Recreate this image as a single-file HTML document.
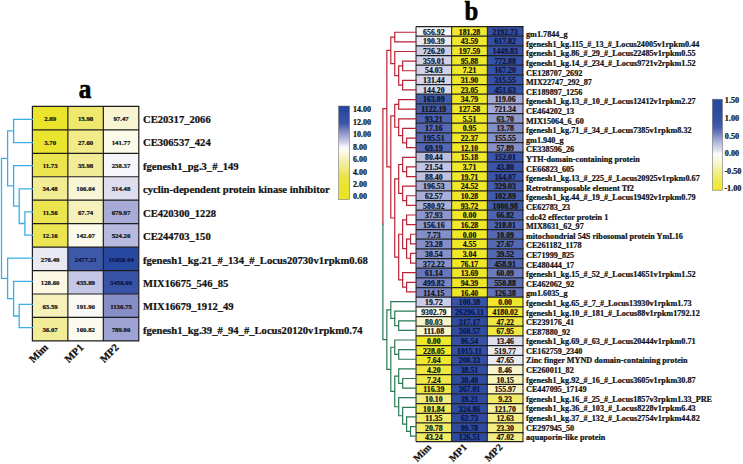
<!DOCTYPE html>
<html><head><meta charset="utf-8"><style>
html,body{margin:0;padding:0;background:#fff;}
body{width:743px;height:464px;position:relative;overflow:hidden;}
svg text{font-family:"Liberation Serif", serif;font-weight:bold;stroke:currentColor;stroke-width:0.22px;}
</style></head><body>
<svg width="743" height="464" viewBox="0 0 743 464" style="position:absolute;left:0;top:0">
<rect width="743" height="464" fill="#fff"/>
<rect x="32.40" y="106.40" width="35.47" height="23.45" fill="#eae42a"/>
<rect x="67.87" y="106.40" width="35.47" height="23.45" fill="#eee86d"/>
<rect x="103.33" y="106.40" width="35.47" height="23.45" fill="#f8f4d1"/>
<rect x="32.40" y="129.85" width="35.47" height="23.45" fill="#eae42f"/>
<rect x="67.87" y="129.85" width="35.47" height="23.45" fill="#f1eb89"/>
<rect x="103.33" y="129.85" width="35.47" height="23.45" fill="#fcfbea"/>
<rect x="32.40" y="153.30" width="35.47" height="23.45" fill="#ece44f"/>
<rect x="67.87" y="153.30" width="35.47" height="23.45" fill="#f2ec96"/>
<rect x="103.33" y="153.30" width="35.47" height="23.45" fill="#f6f6fa"/>
<rect x="32.40" y="176.75" width="35.47" height="23.45" fill="#f2ec94"/>
<rect x="67.87" y="176.75" width="35.47" height="23.45" fill="#f9f6d7"/>
<rect x="103.33" y="176.75" width="35.47" height="23.45" fill="#dedeee"/>
<rect x="32.40" y="200.20" width="35.47" height="23.45" fill="#ece44f"/>
<rect x="67.87" y="200.20" width="35.47" height="23.45" fill="#f6f1bb"/>
<rect x="103.33" y="200.20" width="35.47" height="23.45" fill="#a8abd8"/>
<rect x="32.40" y="223.65" width="35.47" height="23.45" fill="#ece451"/>
<rect x="67.87" y="223.65" width="35.47" height="23.45" fill="#fcfbea"/>
<rect x="103.33" y="223.65" width="35.47" height="23.45" fill="#b7b9df"/>
<rect x="32.40" y="247.10" width="35.47" height="23.45" fill="#e9e9f4"/>
<rect x="67.87" y="247.10" width="35.47" height="23.45" fill="#3e59a9"/>
<rect x="103.33" y="247.10" width="35.47" height="23.45" fill="#2648a0"/>
<rect x="32.40" y="270.55" width="35.47" height="23.45" fill="#fbf9e4"/>
<rect x="67.87" y="270.55" width="35.47" height="23.45" fill="#c4c6e5"/>
<rect x="103.33" y="270.55" width="35.47" height="23.45" fill="#3853a5"/>
<rect x="32.40" y="294.00" width="35.47" height="23.45" fill="#f5f1b8"/>
<rect x="67.87" y="294.00" width="35.47" height="23.45" fill="#f9f8f4"/>
<rect x="103.33" y="294.00" width="35.47" height="23.45" fill="#858ec7"/>
<rect x="32.40" y="317.45" width="35.47" height="23.45" fill="#f2ec97"/>
<rect x="67.87" y="317.45" width="35.47" height="23.45" fill="#fbfaef"/>
<rect x="103.33" y="317.45" width="35.47" height="23.45" fill="#9fa3d3"/>
<text x="50.13" y="121.08" font-size="6.8" text-anchor="middle" fill="#111" color="#111">2.89</text>
<text x="85.60" y="121.08" font-size="6.8" text-anchor="middle" fill="#111" color="#111">15.98</text>
<text x="121.07" y="121.08" font-size="6.8" text-anchor="middle" fill="#111" color="#111">97.47</text>
<text x="143" y="122.83" font-size="10.6" fill="#111" color="#111">CE20317_2066</text>
<text x="50.13" y="144.52" font-size="6.8" text-anchor="middle" fill="#111" color="#111">3.70</text>
<text x="85.60" y="144.52" font-size="6.8" text-anchor="middle" fill="#111" color="#111">27.60</text>
<text x="121.07" y="144.52" font-size="6.8" text-anchor="middle" fill="#111" color="#111">141.77</text>
<text x="143" y="146.27" font-size="10.6" fill="#111" color="#111">CE306537_424</text>
<text x="50.13" y="167.97" font-size="6.8" text-anchor="middle" fill="#111" color="#111">11.73</text>
<text x="85.60" y="167.97" font-size="6.8" text-anchor="middle" fill="#111" color="#111">35.98</text>
<text x="121.07" y="167.97" font-size="6.8" text-anchor="middle" fill="#111" color="#111">238.37</text>
<text x="143" y="169.72" font-size="10.6" fill="#111" color="#111">fgenesh1_pg.3_#_149</text>
<text x="50.13" y="191.42" font-size="6.8" text-anchor="middle" fill="#111" color="#111">34.48</text>
<text x="85.60" y="191.42" font-size="6.8" text-anchor="middle" fill="#111" color="#111">106.64</text>
<text x="121.07" y="191.42" font-size="6.8" text-anchor="middle" fill="#111" color="#111">314.48</text>
<text x="143" y="193.17" font-size="10.6" fill="#111" color="#111">cyclin-dependent protein kinase inhibitor</text>
<text x="50.13" y="214.87" font-size="6.8" text-anchor="middle" fill="#111" color="#111">11.56</text>
<text x="85.60" y="214.87" font-size="6.8" text-anchor="middle" fill="#111" color="#111">67.74</text>
<text x="121.07" y="214.87" font-size="6.8" text-anchor="middle" fill="#111" color="#111">679.97</text>
<text x="143" y="216.62" font-size="10.6" fill="#111" color="#111">CE420300_1228</text>
<text x="50.13" y="238.32" font-size="6.8" text-anchor="middle" fill="#111" color="#111">12.16</text>
<text x="85.60" y="238.32" font-size="6.8" text-anchor="middle" fill="#111" color="#111">142.07</text>
<text x="121.07" y="238.32" font-size="6.8" text-anchor="middle" fill="#111" color="#111">524.26</text>
<text x="143" y="240.07" font-size="10.6" fill="#111" color="#111">CE244703_150</text>
<text x="50.13" y="261.77" font-size="6.8" text-anchor="middle" fill="#111" color="#111">276.49</text>
<text x="85.60" y="261.77" font-size="6.8" text-anchor="middle" fill="#0c1446" color="#0c1446">2477.21</text>
<text x="121.07" y="261.77" font-size="6.8" text-anchor="middle" fill="#0c1446" color="#0c1446">11658.44</text>
<text x="143" y="263.52" font-size="10.6" fill="#111" color="#111">fgenesh1_kg.21_#_134_#_Locus20730v1rpkm0.68</text>
<text x="50.13" y="285.22" font-size="6.8" text-anchor="middle" fill="#111" color="#111">128.60</text>
<text x="85.60" y="285.22" font-size="6.8" text-anchor="middle" fill="#111" color="#111">435.89</text>
<text x="121.07" y="285.22" font-size="6.8" text-anchor="middle" fill="#0c1446" color="#0c1446">3458.60</text>
<text x="143" y="286.97" font-size="10.6" fill="#111" color="#111">MIX16675_546_85</text>
<text x="50.13" y="308.68" font-size="6.8" text-anchor="middle" fill="#111" color="#111">63.59</text>
<text x="85.60" y="308.68" font-size="6.8" text-anchor="middle" fill="#111" color="#111">191.90</text>
<text x="121.07" y="308.68" font-size="6.8" text-anchor="middle" fill="#111" color="#111">1130.75</text>
<text x="143" y="310.43" font-size="10.6" fill="#111" color="#111">MIX16679_1912_49</text>
<text x="50.13" y="332.12" font-size="6.8" text-anchor="middle" fill="#111" color="#111">36.07</text>
<text x="85.60" y="332.12" font-size="6.8" text-anchor="middle" fill="#111" color="#111">160.82</text>
<text x="121.07" y="332.12" font-size="6.8" text-anchor="middle" fill="#111" color="#111">789.90</text>
<text x="143" y="333.87" font-size="10.6" fill="#111" color="#111">fgenesh1_kg.39_#_94_#_Locus20120v1rpkm0.74</text>
<path d="M31.80 106.40H139.40M31.80 129.85H139.40M31.80 153.30H139.40M31.80 176.75H139.40M31.80 200.20H139.40M31.80 223.65H139.40M31.80 247.10H139.40M31.80 270.55H139.40M31.80 294.00H139.40M31.80 317.45H139.40M31.80 340.90H139.40M32.40 106.40V340.90M67.87 106.40V340.90M103.33 106.40V340.90M138.80 106.40V340.90" stroke="#1e1e1e" stroke-width="1.2" fill="none"/>
<path d="M13.60 119.40L32.40 119.40M13.60 142.53L32.40 142.53M13.60 119.40L13.60 142.53M7.60 130.97L13.60 130.97M13.60 165.66L32.40 165.66M19.20 188.79L32.40 188.79M24.90 211.92L32.40 211.92M24.90 235.05L32.40 235.05M24.90 211.92L24.90 235.05M19.20 223.49L24.90 223.49M19.20 188.79L19.20 223.49M13.60 206.14L19.20 206.14M13.60 165.66L13.60 206.14M7.60 185.90L13.60 185.90M7.60 130.97L7.60 185.90M1.50 158.43L7.60 158.43M7.60 258.18L32.40 258.18M13.60 281.31L32.40 281.31M19.20 304.44L32.40 304.44M19.20 327.57L32.40 327.57M19.20 304.44L19.20 327.57M13.60 316.00L19.20 316.00M13.60 281.31L13.60 316.00M7.60 298.66L13.60 298.66M7.60 258.18L7.60 298.66M1.50 278.42L7.60 278.42M1.50 158.43L1.50 278.42" stroke="#3aade2" stroke-width="1.3" fill="none" stroke-linecap="square"/>
<text transform="translate(78.8,97.5) scale(0.9,1)" font-size="28" font-weight="bold" fill="#000" color="#000" style="stroke-width:0.7px">a</text>
<text transform="translate(48.63,348.10) rotate(-45)" font-size="10.5" text-anchor="end" fill="#111" color="#111">Mim</text>
<text transform="translate(84.10,348.10) rotate(-45)" font-size="10.5" text-anchor="end" fill="#111" color="#111">MP1</text>
<text transform="translate(119.57,348.10) rotate(-45)" font-size="10.5" text-anchor="end" fill="#111" color="#111">MP2</text>
<defs><linearGradient id="ga" x1="0" y1="1" x2="0" y2="0">
<stop offset="0.0000" stop-color="#eae424"/>
<stop offset="0.1429" stop-color="#eae42a"/>
<stop offset="0.2643" stop-color="#ece450"/>
<stop offset="0.2929" stop-color="#eee86e"/>
<stop offset="0.3714" stop-color="#f2ec96"/>
<stop offset="0.4714" stop-color="#f8f4d0"/>
<stop offset="0.5143" stop-color="#fcfbec"/>
<stop offset="0.5643" stop-color="#f6f6fa"/>
<stop offset="0.5929" stop-color="#dedeee"/>
<stop offset="0.6429" stop-color="#b8bae0"/>
<stop offset="0.6857" stop-color="#a0a4d4"/>
<stop offset="0.7214" stop-color="#8890c8"/>
<stop offset="0.8071" stop-color="#3c58a8"/>
<stop offset="0.8429" stop-color="#3852a5"/>
<stop offset="0.9643" stop-color="#2648a0"/>
<stop offset="1.0000" stop-color="#24469e"/>
</linearGradient>
<linearGradient id="gb" x1="0" y1="1" x2="0" y2="0">
<stop offset="0.0000" stop-color="#f0e82c"/>
<stop offset="0.0800" stop-color="#f0e844"/>
<stop offset="0.2000" stop-color="#f3ed87"/>
<stop offset="0.2800" stop-color="#f8f4c6"/>
<stop offset="0.3600" stop-color="#fcfaea"/>
<stop offset="0.4000" stop-color="#fcfcfa"/>
<stop offset="0.4200" stop-color="#eeeef6"/>
<stop offset="0.4400" stop-color="#e0e0f0"/>
<stop offset="0.4800" stop-color="#cccee8"/>
<stop offset="0.5200" stop-color="#b6bade"/>
<stop offset="0.5600" stop-color="#9ca4d4"/>
<stop offset="0.6000" stop-color="#808ac6"/>
<stop offset="0.6400" stop-color="#6474ba"/>
<stop offset="0.6800" stop-color="#4c62b0"/>
<stop offset="0.7200" stop-color="#3e58aa"/>
<stop offset="0.7600" stop-color="#3652a6"/>
<stop offset="0.8800" stop-color="#2c4aa0"/>
<stop offset="1" stop-color="#264a9c"/>
</linearGradient></defs>
<rect x="338.6" y="106" width="11" height="93.5" fill="url(#ga)" stroke="#777" stroke-width="0.6"/>
<text x="353" y="112.30" font-size="8" fill="#111" color="#111">14.00</text>
<text x="353" y="124.75" font-size="8" fill="#111" color="#111">12.00</text>
<text x="353" y="137.20" font-size="8" fill="#111" color="#111">10.00</text>
<text x="353" y="149.65" font-size="8" fill="#111" color="#111">8.00</text>
<text x="353" y="162.10" font-size="8" fill="#111" color="#111">6.00</text>
<text x="353" y="174.55" font-size="8" fill="#111" color="#111">4.00</text>
<text x="353" y="187.00" font-size="8" fill="#111" color="#111">2.00</text>
<text x="353" y="199.45" font-size="8" fill="#111" color="#111">0.00</text>
<rect x="416.00" y="26.50" width="35.67" height="9.67" fill="#f6f6f8"/>
<rect x="451.67" y="26.50" width="35.67" height="9.67" fill="#f0e82c"/>
<rect x="487.33" y="26.50" width="35.67" height="9.67" fill="#3350a4"/>
<rect x="416.00" y="36.17" width="35.67" height="9.67" fill="#e8e8f3"/>
<rect x="451.67" y="36.17" width="35.67" height="9.67" fill="#f0e82b"/>
<rect x="487.33" y="36.17" width="35.67" height="9.67" fill="#3450a5"/>
<rect x="416.00" y="45.84" width="35.67" height="9.67" fill="#cccee8"/>
<rect x="451.67" y="45.84" width="35.67" height="9.67" fill="#efe729"/>
<rect x="487.33" y="45.84" width="35.67" height="9.67" fill="#3753a7"/>
<rect x="416.00" y="55.51" width="35.67" height="9.67" fill="#d1d3ea"/>
<rect x="451.67" y="55.51" width="35.67" height="9.67" fill="#efe72a"/>
<rect x="487.33" y="55.51" width="35.67" height="9.67" fill="#3652a6"/>
<rect x="416.00" y="65.18" width="35.67" height="9.67" fill="#d2d3ea"/>
<rect x="451.67" y="65.18" width="35.67" height="9.67" fill="#efe72a"/>
<rect x="487.33" y="65.18" width="35.67" height="9.67" fill="#3652a6"/>
<rect x="416.00" y="74.84" width="35.67" height="9.67" fill="#d6d7ec"/>
<rect x="451.67" y="74.84" width="35.67" height="9.67" fill="#efe72a"/>
<rect x="487.33" y="74.84" width="35.67" height="9.67" fill="#3552a6"/>
<rect x="416.00" y="84.51" width="35.67" height="9.67" fill="#d6d7ec"/>
<rect x="451.67" y="84.51" width="35.67" height="9.67" fill="#efe72a"/>
<rect x="487.33" y="84.51" width="35.67" height="9.67" fill="#3552a6"/>
<rect x="416.00" y="94.18" width="35.67" height="9.67" fill="#445cac"/>
<rect x="451.67" y="94.18" width="35.67" height="9.67" fill="#efe728"/>
<rect x="487.33" y="94.18" width="35.67" height="9.67" fill="#a3aad7"/>
<rect x="416.00" y="103.85" width="35.67" height="9.67" fill="#445cac"/>
<rect x="451.67" y="103.85" width="35.67" height="9.67" fill="#efe728"/>
<rect x="487.33" y="103.85" width="35.67" height="9.67" fill="#a3aad7"/>
<rect x="416.00" y="113.52" width="35.67" height="9.67" fill="#4c62b0"/>
<rect x="451.67" y="113.52" width="35.67" height="9.67" fill="#efe728"/>
<rect x="487.33" y="113.52" width="35.67" height="9.67" fill="#9099ce"/>
<rect x="416.00" y="123.19" width="35.67" height="9.67" fill="#5669b4"/>
<rect x="451.67" y="123.19" width="35.67" height="9.67" fill="#eee627"/>
<rect x="487.33" y="123.19" width="35.67" height="9.67" fill="#828cc7"/>
<rect x="416.00" y="132.86" width="35.67" height="9.67" fill="#5367b3"/>
<rect x="451.67" y="132.86" width="35.67" height="9.67" fill="#efe728"/>
<rect x="487.33" y="132.86" width="35.67" height="9.67" fill="#8690c9"/>
<rect x="416.00" y="142.53" width="35.67" height="9.67" fill="#5367b3"/>
<rect x="451.67" y="142.53" width="35.67" height="9.67" fill="#efe728"/>
<rect x="487.33" y="142.53" width="35.67" height="9.67" fill="#868fc9"/>
<rect x="416.00" y="152.20" width="35.67" height="9.67" fill="#babde0"/>
<rect x="451.67" y="152.20" width="35.67" height="9.67" fill="#efe729"/>
<rect x="487.33" y="152.20" width="35.67" height="9.67" fill="#3c56a9"/>
<rect x="416.00" y="161.87" width="35.67" height="9.67" fill="#c0c3e3"/>
<rect x="451.67" y="161.87" width="35.67" height="9.67" fill="#efe729"/>
<rect x="487.33" y="161.87" width="35.67" height="9.67" fill="#3a55a8"/>
<rect x="416.00" y="171.53" width="35.67" height="9.67" fill="#bec1e1"/>
<rect x="451.67" y="171.53" width="35.67" height="9.67" fill="#efe729"/>
<rect x="487.33" y="171.53" width="35.67" height="9.67" fill="#3b56a8"/>
<rect x="416.00" y="181.20" width="35.67" height="9.67" fill="#a2a9d6"/>
<rect x="451.67" y="181.20" width="35.67" height="9.67" fill="#efe728"/>
<rect x="487.33" y="181.20" width="35.67" height="9.67" fill="#445cad"/>
<rect x="416.00" y="190.87" width="35.67" height="9.67" fill="#a8aed9"/>
<rect x="451.67" y="190.87" width="35.67" height="9.67" fill="#efe728"/>
<rect x="487.33" y="190.87" width="35.67" height="9.67" fill="#425bac"/>
<rect x="416.00" y="200.54" width="35.67" height="9.67" fill="#abb0da"/>
<rect x="451.67" y="200.54" width="35.67" height="9.67" fill="#efe728"/>
<rect x="487.33" y="200.54" width="35.67" height="9.67" fill="#405aab"/>
<rect x="416.00" y="210.21" width="35.67" height="9.67" fill="#8d96cd"/>
<rect x="451.67" y="210.21" width="35.67" height="9.67" fill="#efe728"/>
<rect x="487.33" y="210.21" width="35.67" height="9.67" fill="#4d63b1"/>
<rect x="416.00" y="219.88" width="35.67" height="9.67" fill="#8d96cd"/>
<rect x="451.67" y="219.88" width="35.67" height="9.67" fill="#efe728"/>
<rect x="487.33" y="219.88" width="35.67" height="9.67" fill="#4e63b1"/>
<rect x="416.00" y="229.55" width="35.67" height="9.67" fill="#848ec8"/>
<rect x="451.67" y="229.55" width="35.67" height="9.67" fill="#efe728"/>
<rect x="487.33" y="229.55" width="35.67" height="9.67" fill="#5468b3"/>
<rect x="416.00" y="239.22" width="35.67" height="9.67" fill="#858ec8"/>
<rect x="451.67" y="239.22" width="35.67" height="9.67" fill="#efe728"/>
<rect x="487.33" y="239.22" width="35.67" height="9.67" fill="#5468b3"/>
<rect x="416.00" y="248.89" width="35.67" height="9.67" fill="#8790c9"/>
<rect x="451.67" y="248.89" width="35.67" height="9.67" fill="#efe728"/>
<rect x="487.33" y="248.89" width="35.67" height="9.67" fill="#5267b3"/>
<rect x="416.00" y="258.56" width="35.67" height="9.67" fill="#8993cb"/>
<rect x="451.67" y="258.56" width="35.67" height="9.67" fill="#efe728"/>
<rect x="487.33" y="258.56" width="35.67" height="9.67" fill="#5165b2"/>
<rect x="416.00" y="268.23" width="35.67" height="9.67" fill="#6777bb"/>
<rect x="451.67" y="268.23" width="35.67" height="9.67" fill="#eee627"/>
<rect x="487.33" y="268.23" width="35.67" height="9.67" fill="#6d7bbe"/>
<rect x="416.00" y="277.89" width="35.67" height="9.67" fill="#7884c3"/>
<rect x="451.67" y="277.89" width="35.67" height="9.67" fill="#eee627"/>
<rect x="487.33" y="277.89" width="35.67" height="9.67" fill="#5e6fb7"/>
<rect x="416.00" y="287.56" width="35.67" height="9.67" fill="#7783c2"/>
<rect x="451.67" y="287.56" width="35.67" height="9.67" fill="#eee627"/>
<rect x="487.33" y="287.56" width="35.67" height="9.67" fill="#5f70b8"/>
<rect x="416.00" y="297.23" width="35.67" height="9.67" fill="#cbcde7"/>
<rect x="451.67" y="297.23" width="35.67" height="9.67" fill="#3753a7"/>
<rect x="487.33" y="297.23" width="35.67" height="9.67" fill="#efe729"/>
<rect x="416.00" y="306.90" width="35.67" height="9.67" fill="#fcfaec"/>
<rect x="451.67" y="306.90" width="35.67" height="9.67" fill="#314ea3"/>
<rect x="487.33" y="306.90" width="35.67" height="9.67" fill="#f0e832"/>
<rect x="416.00" y="316.57" width="35.67" height="9.67" fill="#f8f4c8"/>
<rect x="451.67" y="316.57" width="35.67" height="9.67" fill="#2f4ca2"/>
<rect x="487.33" y="316.57" width="35.67" height="9.67" fill="#f0e841"/>
<rect x="416.00" y="326.24" width="35.67" height="9.67" fill="#f9f5cc"/>
<rect x="451.67" y="326.24" width="35.67" height="9.67" fill="#2f4ca2"/>
<rect x="487.33" y="326.24" width="35.67" height="9.67" fill="#f0e83f"/>
<rect x="416.00" y="335.91" width="35.67" height="9.67" fill="#efe72a"/>
<rect x="451.67" y="335.91" width="35.67" height="9.67" fill="#3551a5"/>
<rect x="487.33" y="335.91" width="35.67" height="9.67" fill="#dedeef"/>
<rect x="416.00" y="345.58" width="35.67" height="9.67" fill="#f0e82b"/>
<rect x="451.67" y="345.58" width="35.67" height="9.67" fill="#3450a5"/>
<rect x="487.33" y="345.58" width="35.67" height="9.67" fill="#e9e9f4"/>
<rect x="416.00" y="355.25" width="35.67" height="9.67" fill="#f0e82b"/>
<rect x="451.67" y="355.25" width="35.67" height="9.67" fill="#3450a5"/>
<rect x="487.33" y="355.25" width="35.67" height="9.67" fill="#eaeaf4"/>
<rect x="416.00" y="364.92" width="35.67" height="9.67" fill="#f0e83f"/>
<rect x="451.67" y="364.92" width="35.67" height="9.67" fill="#2f4da2"/>
<rect x="487.33" y="364.92" width="35.67" height="9.67" fill="#f9f5cc"/>
<rect x="416.00" y="374.58" width="35.67" height="9.67" fill="#f0e849"/>
<rect x="451.67" y="374.58" width="35.67" height="9.67" fill="#2e4ca1"/>
<rect x="487.33" y="374.58" width="35.67" height="9.67" fill="#f7f2b7"/>
<rect x="416.00" y="384.25" width="35.67" height="9.67" fill="#f0e843"/>
<rect x="451.67" y="384.25" width="35.67" height="9.67" fill="#2f4ca2"/>
<rect x="487.33" y="384.25" width="35.67" height="9.67" fill="#f8f3c1"/>
<rect x="416.00" y="393.92" width="35.67" height="9.67" fill="#f3ed82"/>
<rect x="451.67" y="393.92" width="35.67" height="9.67" fill="#2e4ba1"/>
<rect x="487.33" y="393.92" width="35.67" height="9.67" fill="#f2eb6a"/>
<rect x="416.00" y="403.59" width="35.67" height="9.67" fill="#f1e957"/>
<rect x="451.67" y="403.59" width="35.67" height="9.67" fill="#2e4ca1"/>
<rect x="487.33" y="403.59" width="35.67" height="9.67" fill="#f5ef9d"/>
<rect x="416.00" y="413.26" width="35.67" height="9.67" fill="#f2eb6a"/>
<rect x="451.67" y="413.26" width="35.67" height="9.67" fill="#2e4ba1"/>
<rect x="487.33" y="413.26" width="35.67" height="9.67" fill="#f3ed82"/>
<rect x="416.00" y="422.93" width="35.67" height="9.67" fill="#f2eb68"/>
<rect x="451.67" y="422.93" width="35.67" height="9.67" fill="#2e4ba1"/>
<rect x="487.33" y="422.93" width="35.67" height="9.67" fill="#f3ed84"/>
<rect x="416.00" y="432.60" width="35.67" height="8.90" fill="#f2eb66"/>
<rect x="451.67" y="432.60" width="35.67" height="8.90" fill="#2e4ba1"/>
<rect x="487.33" y="432.60" width="35.67" height="8.90" fill="#f3ed86"/>
<text x="433.83" y="34.53" font-size="7.8" text-anchor="middle" fill="#111" color="#111">656.92</text>
<text x="469.50" y="34.53" font-size="7.8" text-anchor="middle" fill="#111" color="#111">181.28</text>
<text x="505.17" y="34.53" font-size="7.8" text-anchor="middle" fill="#0c1446" color="#0c1446">2192.73</text>
<text x="526" y="37.30" font-size="8.2" fill="#111" color="#111">gm1.7844_g</text>
<text x="433.83" y="44.20" font-size="7.8" text-anchor="middle" fill="#111" color="#111">190.39</text>
<text x="469.50" y="44.20" font-size="7.8" text-anchor="middle" fill="#111" color="#111">43.59</text>
<text x="505.17" y="44.20" font-size="7.8" text-anchor="middle" fill="#0c1446" color="#0c1446">617.82</text>
<text x="526" y="46.89" font-size="8.2" fill="#111" color="#111">fgenesh1_kg.115_#_13_#_Locus24005v1rpkm0.44</text>
<text x="433.83" y="53.87" font-size="7.8" text-anchor="middle" fill="#111" color="#111">726.20</text>
<text x="469.50" y="53.87" font-size="7.8" text-anchor="middle" fill="#111" color="#111">197.59</text>
<text x="505.17" y="53.87" font-size="7.8" text-anchor="middle" fill="#0c1446" color="#0c1446">1449.83</text>
<text x="526" y="56.49" font-size="8.2" fill="#111" color="#111">fgenesh1_kg.86_#_29_#_Locus22485v1rpkm0.55</text>
<text x="433.83" y="63.54" font-size="7.8" text-anchor="middle" fill="#111" color="#111">359.01</text>
<text x="469.50" y="63.54" font-size="7.8" text-anchor="middle" fill="#111" color="#111">95.88</text>
<text x="505.17" y="63.54" font-size="7.8" text-anchor="middle" fill="#0c1446" color="#0c1446">772.88</text>
<text x="526" y="66.08" font-size="8.2" fill="#111" color="#111">fgenesh1_kg.14_#_234_#_Locus9721v2rpkm1.52</text>
<text x="433.83" y="73.21" font-size="7.8" text-anchor="middle" fill="#111" color="#111">54.03</text>
<text x="469.50" y="73.21" font-size="7.8" text-anchor="middle" fill="#111" color="#111">7.21</text>
<text x="505.17" y="73.21" font-size="7.8" text-anchor="middle" fill="#0c1446" color="#0c1446">167.20</text>
<text x="526" y="75.67" font-size="8.2" fill="#111" color="#111">CE128707_2692</text>
<text x="433.83" y="82.88" font-size="7.8" text-anchor="middle" fill="#111" color="#111">131.44</text>
<text x="469.50" y="82.88" font-size="7.8" text-anchor="middle" fill="#111" color="#111">31.90</text>
<text x="505.17" y="82.88" font-size="7.8" text-anchor="middle" fill="#0c1446" color="#0c1446">315.55</text>
<text x="526" y="85.27" font-size="8.2" fill="#111" color="#111">MIX22747_292_87</text>
<text x="433.83" y="92.55" font-size="7.8" text-anchor="middle" fill="#111" color="#111">144.20</text>
<text x="469.50" y="92.55" font-size="7.8" text-anchor="middle" fill="#111" color="#111">23.05</text>
<text x="505.17" y="92.55" font-size="7.8" text-anchor="middle" fill="#0c1446" color="#0c1446">451.63</text>
<text x="526" y="94.86" font-size="8.2" fill="#111" color="#111">CE189897_1256</text>
<text x="433.83" y="102.22" font-size="7.8" text-anchor="middle" fill="#111" color="#111">163.09</text>
<text x="469.50" y="102.22" font-size="7.8" text-anchor="middle" fill="#111" color="#111">34.79</text>
<text x="505.17" y="102.22" font-size="7.8" text-anchor="middle" fill="#111" color="#111">119.06</text>
<text x="526" y="104.45" font-size="8.2" fill="#111" color="#111">fgenesh1_kg.13_#_10_#_Locus12412v1rpkm2.27</text>
<text x="433.83" y="111.89" font-size="7.8" text-anchor="middle" fill="#111" color="#111">1122.19</text>
<text x="469.50" y="111.89" font-size="7.8" text-anchor="middle" fill="#111" color="#111">127.58</text>
<text x="505.17" y="111.89" font-size="7.8" text-anchor="middle" fill="#111" color="#111">721.34</text>
<text x="526" y="114.04" font-size="8.2" fill="#111" color="#111">CE464202_13</text>
<text x="433.83" y="121.56" font-size="7.8" text-anchor="middle" fill="#111" color="#111">93.21</text>
<text x="469.50" y="121.56" font-size="7.8" text-anchor="middle" fill="#111" color="#111">5.51</text>
<text x="505.17" y="121.56" font-size="7.8" text-anchor="middle" fill="#111" color="#111">63.70</text>
<text x="526" y="123.64" font-size="8.2" fill="#111" color="#111">MIX15064_6_60</text>
<text x="433.83" y="131.22" font-size="7.8" text-anchor="middle" fill="#111" color="#111">17.16</text>
<text x="469.50" y="131.22" font-size="7.8" text-anchor="middle" fill="#111" color="#111">0.95</text>
<text x="505.17" y="131.22" font-size="7.8" text-anchor="middle" fill="#111" color="#111">13.78</text>
<text x="526" y="133.23" font-size="8.2" fill="#111" color="#111">fgenesh1_kg.71_#_34_#_Locus7385v1rpkm8.32</text>
<text x="433.83" y="140.89" font-size="7.8" text-anchor="middle" fill="#111" color="#111">195.51</text>
<text x="469.50" y="140.89" font-size="7.8" text-anchor="middle" fill="#111" color="#111">22.37</text>
<text x="505.17" y="140.89" font-size="7.8" text-anchor="middle" fill="#111" color="#111">155.55</text>
<text x="526" y="142.82" font-size="8.2" fill="#111" color="#111">gm1.940_g</text>
<text x="433.83" y="150.56" font-size="7.8" text-anchor="middle" fill="#111" color="#111">69.19</text>
<text x="469.50" y="150.56" font-size="7.8" text-anchor="middle" fill="#111" color="#111">12.10</text>
<text x="505.17" y="150.56" font-size="7.8" text-anchor="middle" fill="#111" color="#111">57.89</text>
<text x="526" y="152.42" font-size="8.2" fill="#111" color="#111">CE338596_26</text>
<text x="433.83" y="160.23" font-size="7.8" text-anchor="middle" fill="#111" color="#111">80.44</text>
<text x="469.50" y="160.23" font-size="7.8" text-anchor="middle" fill="#111" color="#111">15.18</text>
<text x="505.17" y="160.23" font-size="7.8" text-anchor="middle" fill="#0c1446" color="#0c1446">152.01</text>
<text x="526" y="162.01" font-size="8.2" fill="#111" color="#111">YTH-domain-containing protein</text>
<text x="433.83" y="169.90" font-size="7.8" text-anchor="middle" fill="#111" color="#111">21.54</text>
<text x="469.50" y="169.90" font-size="7.8" text-anchor="middle" fill="#111" color="#111">3.71</text>
<text x="505.17" y="169.90" font-size="7.8" text-anchor="middle" fill="#0c1446" color="#0c1446">43.80</text>
<text x="526" y="171.60" font-size="8.2" fill="#111" color="#111">CE66823_605</text>
<text x="433.83" y="179.57" font-size="7.8" text-anchor="middle" fill="#111" color="#111">88.40</text>
<text x="469.50" y="179.57" font-size="7.8" text-anchor="middle" fill="#111" color="#111">19.71</text>
<text x="505.17" y="179.57" font-size="7.8" text-anchor="middle" fill="#0c1446" color="#0c1446">164.07</text>
<text x="526" y="181.19" font-size="8.2" fill="#111" color="#111">fgenesh1_kg.13_#_225_#_Locus20925v1rpkm0.67</text>
<text x="433.83" y="189.24" font-size="7.8" text-anchor="middle" fill="#111" color="#111">196.53</text>
<text x="469.50" y="189.24" font-size="7.8" text-anchor="middle" fill="#111" color="#111">24.52</text>
<text x="505.17" y="189.24" font-size="7.8" text-anchor="middle" fill="#111" color="#111">329.03</text>
<text x="526" y="190.79" font-size="8.2" fill="#111" color="#111">Retrotransposable element Tf2</text>
<text x="433.83" y="198.91" font-size="7.8" text-anchor="middle" fill="#111" color="#111">62.57</text>
<text x="469.50" y="198.91" font-size="7.8" text-anchor="middle" fill="#111" color="#111">10.28</text>
<text x="505.17" y="198.91" font-size="7.8" text-anchor="middle" fill="#111" color="#111">102.89</text>
<text x="526" y="200.38" font-size="8.2" fill="#111" color="#111">fgenesh1_kg.44_#_19_#_Locus19492v1rpkm0.79</text>
<text x="433.83" y="208.58" font-size="7.8" text-anchor="middle" fill="#111" color="#111">580.92</text>
<text x="469.50" y="208.58" font-size="7.8" text-anchor="middle" fill="#111" color="#111">93.72</text>
<text x="505.17" y="208.58" font-size="7.8" text-anchor="middle" fill="#111" color="#111">1000.98</text>
<text x="526" y="209.97" font-size="8.2" fill="#111" color="#111">CE62783_23</text>
<text x="433.83" y="218.25" font-size="7.8" text-anchor="middle" fill="#111" color="#111">37.93</text>
<text x="469.50" y="218.25" font-size="7.8" text-anchor="middle" fill="#111" color="#111">0.00</text>
<text x="505.17" y="218.25" font-size="7.8" text-anchor="middle" fill="#111" color="#111">66.82</text>
<text x="526" y="219.57" font-size="8.2" fill="#111" color="#111">cdc42 effector protein 1</text>
<text x="433.83" y="227.91" font-size="7.8" text-anchor="middle" fill="#111" color="#111">156.16</text>
<text x="469.50" y="227.91" font-size="7.8" text-anchor="middle" fill="#111" color="#111">16.28</text>
<text x="505.17" y="227.91" font-size="7.8" text-anchor="middle" fill="#111" color="#111">218.01</text>
<text x="526" y="229.16" font-size="8.2" fill="#111" color="#111">MIX8631_62_97</text>
<text x="433.83" y="237.58" font-size="7.8" text-anchor="middle" fill="#111" color="#111">7.73</text>
<text x="469.50" y="237.58" font-size="7.8" text-anchor="middle" fill="#111" color="#111">0.00</text>
<text x="505.17" y="237.58" font-size="7.8" text-anchor="middle" fill="#111" color="#111">10.09</text>
<text x="526" y="238.75" font-size="8.2" fill="#111" color="#111">mitochondrial 54S ribosomal protein YmL16</text>
<text x="433.83" y="247.25" font-size="7.8" text-anchor="middle" fill="#111" color="#111">23.28</text>
<text x="469.50" y="247.25" font-size="7.8" text-anchor="middle" fill="#111" color="#111">4.55</text>
<text x="505.17" y="247.25" font-size="7.8" text-anchor="middle" fill="#111" color="#111">27.67</text>
<text x="526" y="248.35" font-size="8.2" fill="#111" color="#111">CE261182_1178</text>
<text x="433.83" y="256.92" font-size="7.8" text-anchor="middle" fill="#111" color="#111">30.54</text>
<text x="469.50" y="256.92" font-size="7.8" text-anchor="middle" fill="#111" color="#111">3.04</text>
<text x="505.17" y="256.92" font-size="7.8" text-anchor="middle" fill="#111" color="#111">39.52</text>
<text x="526" y="257.94" font-size="8.2" fill="#111" color="#111">CE71999_825</text>
<text x="433.83" y="266.59" font-size="7.8" text-anchor="middle" fill="#111" color="#111">372.22</text>
<text x="469.50" y="266.59" font-size="7.8" text-anchor="middle" fill="#111" color="#111">76.17</text>
<text x="505.17" y="266.59" font-size="7.8" text-anchor="middle" fill="#111" color="#111">458.91</text>
<text x="526" y="267.53" font-size="8.2" fill="#111" color="#111">CE480444_17</text>
<text x="433.83" y="276.26" font-size="7.8" text-anchor="middle" fill="#111" color="#111">61.14</text>
<text x="469.50" y="276.26" font-size="7.8" text-anchor="middle" fill="#111" color="#111">13.69</text>
<text x="505.17" y="276.26" font-size="7.8" text-anchor="middle" fill="#111" color="#111">60.09</text>
<text x="526" y="277.12" font-size="8.2" fill="#111" color="#111">fgenesh1_kg.15_#_52_#_Locus14651v1rpkm1.52</text>
<text x="433.83" y="285.93" font-size="7.8" text-anchor="middle" fill="#111" color="#111">499.82</text>
<text x="469.50" y="285.93" font-size="7.8" text-anchor="middle" fill="#111" color="#111">94.39</text>
<text x="505.17" y="285.93" font-size="7.8" text-anchor="middle" fill="#111" color="#111">550.88</text>
<text x="526" y="286.72" font-size="8.2" fill="#111" color="#111">CE462062_92</text>
<text x="433.83" y="295.60" font-size="7.8" text-anchor="middle" fill="#111" color="#111">114.15</text>
<text x="469.50" y="295.60" font-size="7.8" text-anchor="middle" fill="#111" color="#111">16.40</text>
<text x="505.17" y="295.60" font-size="7.8" text-anchor="middle" fill="#111" color="#111">126.38</text>
<text x="526" y="296.31" font-size="8.2" fill="#111" color="#111">gm1.6035_g</text>
<text x="433.83" y="305.27" font-size="7.8" text-anchor="middle" fill="#111" color="#111">19.72</text>
<text x="469.50" y="305.27" font-size="7.8" text-anchor="middle" fill="#0c1446" color="#0c1446">100.38</text>
<text x="505.17" y="305.27" font-size="7.8" text-anchor="middle" fill="#111" color="#111">0.00</text>
<text x="526" y="305.90" font-size="8.2" fill="#111" color="#111">fgenesh1_kg.65_#_7_#_Locus13930v1rpkm1.73</text>
<text x="433.83" y="314.94" font-size="7.8" text-anchor="middle" fill="#111" color="#111">9302.79</text>
<text x="469.50" y="314.94" font-size="7.8" text-anchor="middle" fill="#0c1446" color="#0c1446">26296.11</text>
<text x="505.17" y="314.94" font-size="7.8" text-anchor="middle" fill="#111" color="#111">4180.02</text>
<text x="526" y="315.50" font-size="8.2" fill="#111" color="#111">fgenesh1_kg.10_#_181_#_Locus88v1rpkm1792.12</text>
<text x="433.83" y="324.60" font-size="7.8" text-anchor="middle" fill="#111" color="#111">80.03</text>
<text x="469.50" y="324.60" font-size="7.8" text-anchor="middle" fill="#0c1446" color="#0c1446">317.17</text>
<text x="505.17" y="324.60" font-size="7.8" text-anchor="middle" fill="#111" color="#111">47.22</text>
<text x="526" y="325.09" font-size="8.2" fill="#111" color="#111">CE239176_41</text>
<text x="433.83" y="334.27" font-size="7.8" text-anchor="middle" fill="#111" color="#111">111.08</text>
<text x="469.50" y="334.27" font-size="7.8" text-anchor="middle" fill="#0c1446" color="#0c1446">360.57</text>
<text x="505.17" y="334.27" font-size="7.8" text-anchor="middle" fill="#111" color="#111">67.95</text>
<text x="526" y="334.68" font-size="8.2" fill="#111" color="#111">CE87880_92</text>
<text x="433.83" y="343.94" font-size="7.8" text-anchor="middle" fill="#111" color="#111">0.00</text>
<text x="469.50" y="343.94" font-size="7.8" text-anchor="middle" fill="#0c1446" color="#0c1446">96.54</text>
<text x="505.17" y="343.94" font-size="7.8" text-anchor="middle" fill="#111" color="#111">13.46</text>
<text x="526" y="344.28" font-size="8.2" fill="#111" color="#111">fgenesh1_kg.69_#_63_#_Locus20444v1rpkm0.71</text>
<text x="433.83" y="353.61" font-size="7.8" text-anchor="middle" fill="#111" color="#111">228.05</text>
<text x="469.50" y="353.61" font-size="7.8" text-anchor="middle" fill="#0c1446" color="#0c1446">1015.11</text>
<text x="505.17" y="353.61" font-size="7.8" text-anchor="middle" fill="#111" color="#111">519.77</text>
<text x="526" y="353.87" font-size="8.2" fill="#111" color="#111">CE162759_2340</text>
<text x="433.83" y="363.28" font-size="7.8" text-anchor="middle" fill="#111" color="#111">7.64</text>
<text x="469.50" y="363.28" font-size="7.8" text-anchor="middle" fill="#0c1446" color="#0c1446">200.33</text>
<text x="505.17" y="363.28" font-size="7.8" text-anchor="middle" fill="#111" color="#111">47.65</text>
<text x="526" y="363.46" font-size="8.2" fill="#111" color="#111">Zinc finger MYND domain-containing protein</text>
<text x="433.83" y="372.95" font-size="7.8" text-anchor="middle" fill="#111" color="#111">4.20</text>
<text x="469.50" y="372.95" font-size="7.8" text-anchor="middle" fill="#0c1446" color="#0c1446">38.51</text>
<text x="505.17" y="372.95" font-size="7.8" text-anchor="middle" fill="#111" color="#111">8.46</text>
<text x="526" y="373.06" font-size="8.2" fill="#111" color="#111">CE260011_82</text>
<text x="433.83" y="382.62" font-size="7.8" text-anchor="middle" fill="#111" color="#111">7.24</text>
<text x="469.50" y="382.62" font-size="7.8" text-anchor="middle" fill="#0c1446" color="#0c1446">30.40</text>
<text x="505.17" y="382.62" font-size="7.8" text-anchor="middle" fill="#111" color="#111">10.15</text>
<text x="526" y="382.65" font-size="8.2" fill="#111" color="#111">fgenesh1_kg.92_#_16_#_Locus3605v1rpkm30.87</text>
<text x="433.83" y="392.29" font-size="7.8" text-anchor="middle" fill="#111" color="#111">116.39</text>
<text x="469.50" y="392.29" font-size="7.8" text-anchor="middle" fill="#0c1446" color="#0c1446">367.01</text>
<text x="505.17" y="392.29" font-size="7.8" text-anchor="middle" fill="#111" color="#111">155.97</text>
<text x="526" y="392.24" font-size="8.2" fill="#111" color="#111">CE447095_17149</text>
<text x="433.83" y="401.96" font-size="7.8" text-anchor="middle" fill="#111" color="#111">10.10</text>
<text x="469.50" y="401.96" font-size="7.8" text-anchor="middle" fill="#0c1446" color="#0c1446">39.21</text>
<text x="505.17" y="401.96" font-size="7.8" text-anchor="middle" fill="#111" color="#111">9.23</text>
<text x="526" y="401.83" font-size="8.2" fill="#111" color="#111">fgenesh1_kg.16_#_25_#_Locus1857v3rpkm1.33_PRE</text>
<text x="433.83" y="411.63" font-size="7.8" text-anchor="middle" fill="#111" color="#111">101.84</text>
<text x="469.50" y="411.63" font-size="7.8" text-anchor="middle" fill="#0c1446" color="#0c1446">324.86</text>
<text x="505.17" y="411.63" font-size="7.8" text-anchor="middle" fill="#111" color="#111">121.70</text>
<text x="526" y="411.43" font-size="8.2" fill="#111" color="#111">fgenesh1_kg.36_#_103_#_Locus8228v1rpkm6.43</text>
<text x="433.83" y="421.29" font-size="7.8" text-anchor="middle" fill="#111" color="#111">11.35</text>
<text x="469.50" y="421.29" font-size="7.8" text-anchor="middle" fill="#0c1446" color="#0c1446">62.73</text>
<text x="505.17" y="421.29" font-size="7.8" text-anchor="middle" fill="#111" color="#111">12.63</text>
<text x="526" y="421.02" font-size="8.2" fill="#111" color="#111">fgenesh1_kg.37_#_132_#_Locus2754v1rpkm44.82</text>
<text x="433.83" y="430.96" font-size="7.8" text-anchor="middle" fill="#111" color="#111">20.78</text>
<text x="469.50" y="430.96" font-size="7.8" text-anchor="middle" fill="#0c1446" color="#0c1446">99.78</text>
<text x="505.17" y="430.96" font-size="7.8" text-anchor="middle" fill="#111" color="#111">23.30</text>
<text x="526" y="430.61" font-size="8.2" fill="#111" color="#111">CE297945_50</text>
<text x="433.83" y="440.25" font-size="7.8" text-anchor="middle" fill="#111" color="#111">43.24</text>
<text x="469.50" y="440.25" font-size="7.8" text-anchor="middle" fill="#0c1446" color="#0c1446">126.51</text>
<text x="505.17" y="440.25" font-size="7.8" text-anchor="middle" fill="#111" color="#111">47.02</text>
<text x="526" y="440.21" font-size="8.2" fill="#111" color="#111">aquaporin-like protein</text>
<path d="M416.00 26.50H523.50M416.00 36.17H523.50M416.00 45.84H523.50M416.00 55.51H523.50M416.00 65.18H523.50M416.00 74.84H523.50M416.00 84.51H523.50M416.00 94.18H523.50M416.00 103.85H523.50M416.00 113.52H523.50M416.00 123.19H523.50M416.00 132.86H523.50M416.00 142.53H523.50M416.00 152.20H523.50M416.00 161.87H523.50M416.00 171.53H523.50M416.00 181.20H523.50M416.00 190.87H523.50M416.00 200.54H523.50M416.00 210.21H523.50M416.00 219.88H523.50M416.00 229.55H523.50M416.00 239.22H523.50M416.00 248.89H523.50M416.00 258.56H523.50M416.00 268.23H523.50M416.00 277.89H523.50M416.00 287.56H523.50M416.00 297.23H523.50M416.00 306.90H523.50M416.00 316.57H523.50M416.00 326.24H523.50M416.00 335.91H523.50M416.00 345.58H523.50M416.00 355.25H523.50M416.00 364.92H523.50M416.00 374.58H523.50M416.00 384.25H523.50M416.00 393.92H523.50M416.00 403.59H523.50M416.00 413.26H523.50M416.00 422.93H523.50M416.00 432.60H523.50M416.00 441.50H523.50" stroke="#222" stroke-width="1.25" fill="none"/>
<path d="M416.00 26.50V441.50M451.67 26.50V441.50M487.33 26.50V441.50M523.00 26.50V441.50" stroke="#1a1a1a" stroke-width="1" fill="none"/>
<path d="M394.75 32.27L416.00 32.27M394.75 41.89L416.00 41.89M394.75 32.27L394.75 41.89M390.80 37.08L394.75 37.08M394.75 51.50L416.00 51.50M402.65 61.12L416.00 61.12M402.65 70.74L416.00 70.74M402.65 61.12L402.65 70.74M398.70 65.93L402.65 65.93M402.65 80.36L416.00 80.36M402.65 89.97L416.00 89.97M402.65 80.36L402.65 89.97M398.70 85.16L402.65 85.16M398.70 65.93L398.70 85.16M394.75 75.55L398.70 75.55M394.75 51.50L394.75 75.55M390.80 63.53L394.75 63.53M390.80 37.08L390.80 63.53M386.85 50.30L390.80 50.30M398.70 99.59L416.00 99.59M398.70 109.21L416.00 109.21M398.70 99.59L398.70 109.21M394.75 104.40L398.70 104.40M398.70 118.82L416.00 118.82M402.65 128.44L416.00 128.44M406.60 138.06L416.00 138.06M406.60 147.67L416.00 147.67M406.60 138.06L406.60 147.67M402.65 142.87L406.60 142.87M402.65 128.44L402.65 142.87M398.70 135.65L402.65 135.65M398.70 118.82L398.70 135.65M394.75 127.24L398.70 127.24M394.75 104.40L394.75 127.24M390.80 115.82L394.75 115.82M402.65 157.29L416.00 157.29M406.60 166.91L416.00 166.91M406.60 176.53L416.00 176.53M406.60 166.91L406.60 176.53M402.65 171.72L406.60 171.72M402.65 157.29L402.65 171.72M398.70 164.50L402.65 164.50M402.65 186.14L416.00 186.14M406.60 195.76L416.00 195.76M406.60 205.38L416.00 205.38M406.60 195.76L406.60 205.38M402.65 200.57L406.60 200.57M402.65 186.14L402.65 200.57M398.70 193.35L402.65 193.35M398.70 164.50L398.70 193.35M394.75 178.93L398.70 178.93M406.60 214.99L416.00 214.99M406.60 224.61L416.00 224.61M406.60 214.99L406.60 224.61M402.65 219.80L406.60 219.80M410.55 234.23L416.00 234.23M410.55 243.84L416.00 243.84M410.55 234.23L410.55 243.84M406.60 239.04L410.55 239.04M410.55 253.46L416.00 253.46M410.55 263.08L416.00 263.08M410.55 253.46L410.55 263.08M406.60 258.27L410.55 258.27M406.60 239.04L406.60 258.27M402.65 248.65L406.60 248.65M402.65 219.80L402.65 248.65M398.70 234.23L402.65 234.23M402.65 272.69L416.00 272.69M406.60 282.31L416.00 282.31M406.60 291.93L416.00 291.93M406.60 282.31L406.60 291.93M402.65 287.12L406.60 287.12M402.65 272.69L402.65 287.12M398.70 279.91L402.65 279.91M398.70 234.23L398.70 279.91M394.75 257.07L398.70 257.07M394.75 178.93L394.75 257.07M390.80 218.00L394.75 218.00M390.80 115.82L390.80 218.00M386.85 166.91L390.80 166.91M386.85 50.30L386.85 166.91M382.90 108.60L386.85 108.60M382.90 108.60L382.90 224.12" stroke="#bb2235" stroke-width="1.2" fill="none" stroke-linecap="square"/>
<path d="M390.80 301.55L416.00 301.55M394.75 311.16L416.00 311.16M398.70 320.78L416.00 320.78M398.70 330.40L416.00 330.40M398.70 320.78L398.70 330.40M394.75 325.59L398.70 325.59M394.75 311.16L394.75 325.59M390.80 318.38L394.75 318.38M390.80 301.55L390.80 318.38M386.85 309.96L390.80 309.96M394.75 340.01L416.00 340.01M398.70 349.63L416.00 349.63M398.70 359.25L416.00 359.25M398.70 349.63L398.70 359.25M394.75 354.44L398.70 354.44M394.75 340.01L394.75 354.44M390.80 347.23L394.75 347.23M398.70 368.87L416.00 368.87M402.65 378.48L416.00 378.48M402.65 388.10L416.00 388.10M402.65 378.48L402.65 388.10M398.70 383.29L402.65 383.29M398.70 368.87L398.70 383.29M394.75 376.08L398.70 376.08M398.70 397.72L416.00 397.72M402.65 407.33L416.00 407.33M406.60 416.95L416.00 416.95M410.55 426.57L416.00 426.57M410.55 436.18L416.00 436.18M410.55 426.57L410.55 436.18M406.60 431.38L410.55 431.38M406.60 416.95L406.60 431.38M402.65 424.16L406.60 424.16M402.65 407.33L402.65 424.16M398.70 415.75L402.65 415.75M398.70 397.72L398.70 415.75M394.75 406.73L398.70 406.73M394.75 376.08L394.75 406.73M390.80 391.40L394.75 391.40M390.80 347.23L390.80 391.40M386.85 369.32L390.80 369.32M386.85 309.96L386.85 369.32M382.90 339.64L386.85 339.64M382.90 224.12L382.90 339.64" stroke="#2a7a54" stroke-width="1.2" fill="none" stroke-linecap="square"/>
<text transform="translate(464.6,19.8) scale(0.9,1)" font-size="27.5" font-weight="bold" fill="#000" color="#000" style="stroke-width:0.6px">b</text>
<text transform="translate(431.83,447.80) rotate(-45)" font-size="10" text-anchor="end" fill="#111" color="#111">Mim</text>
<text transform="translate(467.50,447.80) rotate(-45)" font-size="10" text-anchor="end" fill="#111" color="#111">MP1</text>
<text transform="translate(503.17,447.80) rotate(-45)" font-size="10" text-anchor="end" fill="#111" color="#111">MP2</text>
<rect x="712.3" y="99.2" width="10.2" height="91" fill="url(#gb)" stroke="#777" stroke-width="0.6"/>
<text x="724.8" y="103.40" font-size="8.2" fill="#111" color="#111">1.50</text>
<text x="724.8" y="120.95" font-size="8.2" fill="#111" color="#111">1.00</text>
<text x="724.8" y="138.50" font-size="8.2" fill="#111" color="#111">0.50</text>
<text x="724.8" y="156.05" font-size="8.2" fill="#111" color="#111">0.00</text>
<text x="724.4" y="173.60" font-size="8.2" fill="#111" color="#111">-0.50</text>
<text x="724.4" y="191.15" font-size="8.2" fill="#111" color="#111">-1.00</text>
</svg>
</body></html>
